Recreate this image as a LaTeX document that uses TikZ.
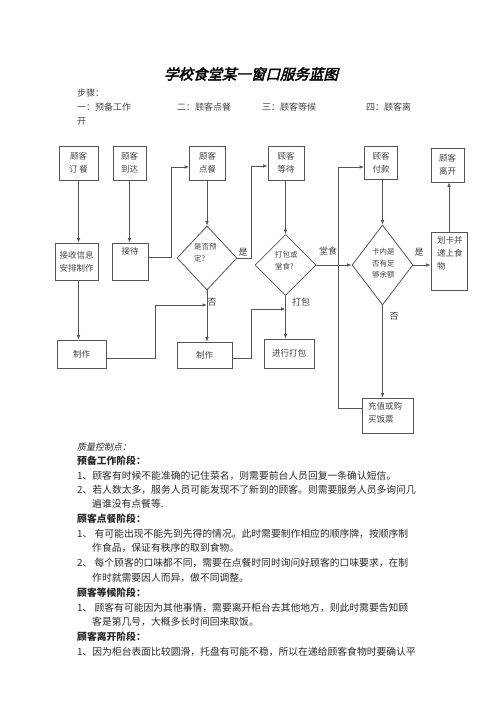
\documentclass[tikz,border=0pt]{standalone}
\usepackage{fontspec}
\setmainfont{Noto Sans CJK SC}
\newfontfamily\titlefont[FakeSlant=0.25,FakeBold=2.5]{Noto Sans CJK SC}
\newfontfamily\slantfont[FakeSlant=0.2]{Noto Sans CJK SC}
\usetikzlibrary{arrows.meta,shapes.geometric,calc}
\definecolor{linec}{HTML}{555555}
\definecolor{txtc}{HTML}{444444}
\definecolor{bodyc}{HTML}{2a2a2a}
\begin{document}
\begin{tikzpicture}[x=1pt,y=-1pt,
  box/.style={draw=linec, line width=0.8pt, rectangle, inner sep=0pt, text=txtc,
    font=\fontsize{8.5}{13}\selectfont, align=center},
  dia/.style={draw=linec, line width=0.8pt, diamond, inner sep=0pt},
  dtxt/.style={text=txtc, font=\fontsize{7.5}{12}\selectfont, align=left, inner sep=0pt, anchor=north west},
  btxt/.style={text=txtc, font=\fontsize{8.5}{13}\selectfont, align=left, inner sep=0pt, anchor=north west},
  lab/.style={text=txtc, font=\fontsize{9}{11}\selectfont, inner sep=0pt},
  conn/.style={draw=linec, line width=0.8pt},
  arr/.style={conn, -{Latex[length=4.5pt,width=3.6pt]}},
  stp/.style={text=txtc, font=\fontsize{9}{11}\selectfont, inner sep=0pt, anchor=west},
  bt/.style={text=bodyc, font=\fontsize{9.8}{12}\selectfont, inner sep=0pt, anchor=west},
  bh/.style={text=bodyc, font=\fontsize{9.8}{12}\selectfont\bfseries, inner sep=0pt, anchor=west}
]
\useasboundingbox[fill=white] (0,0) rectangle (500,708);

% title and steps
\node[text=black, font=\titlefont\fontsize{14.5}{16}\selectfont, inner sep=0pt] (title) at (251,74) {学校食堂某一窗口服务蓝图};
\node[stp] (s0) at (77,93) {步骤：};
\node[stp] (s1) at (77,107) {一：预备工作};
\node[stp] (s2) at (177,107) {二：顾客点餐};
\node[stp] (s3) at (262,107) {三：顾客等候};
\node[stp] (s4) at (366,107) {四：顾客离};
\node[stp] (s5) at (77,121) {开};

% top row
\node[box, minimum width=39, minimum height=34] (b1) at (78.5,163) {顾客\\订\ 餐};
\node[box, minimum width=33, minimum height=34] (b2) at (129.5,163) {顾客\\到达};
\node[box, minimum width=36, minimum height=34] (b3) at (207.5,163) {顾客\\点餐};
\node[box, minimum width=36, minimum height=34] (b4) at (286,163) {顾客\\等待};
\node[box, minimum width=33, minimum height=33] (b5) at (381,162.5) {顾客\\付款};
\node[box, minimum width=33, minimum height=34] (b6) at (447.5,165) {顾客\\离开};

% middle row
\node[box, minimum width=43, minimum height=37] (b7) at (76.5,261.5) {接收信息\\安排制作};
\node[box, minimum width=36, minimum height=37] (b8) at (130,261.5) {};
\node[btxt, anchor=north] (b8t) at (130,247) {接待};
\node[dia, minimum width=60, minimum height=64] (d1) at (207,258) {};
\node[dtxt] (d1t) at (194,243) {是否预\\定?};
\node[dia, minimum width=61, minimum height=61] (d2) at (285.5,265) {};
\node[dtxt] (d2t) at (275,251) {打包或\\堂食?};
\node[dia, minimum width=61, minimum height=80] (d3) at (382.5,265) {};
\node[dtxt, font=\fontsize{7.5}{11.5}\selectfont] (d3t) at (372,248) {卡内是\\否有足\\够余额};
\node[box, minimum width=36, minimum height=58] (b12) at (449,261) {};
\node[btxt] (b12t) at (437,236) {划卡并\\递上食\\物};

% bottom row
\node[box, minimum width=49, minimum height=28] (b9) at (81.5,354) {制作};
\node[box, minimum width=55, minimum height=26] (b10) at (204.5,355) {制作};
\node[box, minimum width=50, minimum height=29] (b11) at (289,353.5) {进行打包};
\node[box, minimum width=51, minimum height=35] (b13) at (387.5,415.5) {};
\node[btxt] (b13t) at (368,402) {充值或购\\买饭票};

% bend coordinates
\coordinate (k1) at (171,167);
\coordinate (k2) at (251,166);
\coordinate (k3) at (338,167);
\coordinate (k4) at (155,305);
\coordinate (k5) at (251,309);

% connectors
\draw[arr] (b1.south) -- (b1.south |- b7.north);
\draw[arr] (b2.south) -- (b2.south |- b8.north);
\draw[arr] (b8.east |- 0,257) -| (k1) -- (k1 -| b3.west);
\draw[arr] (b3.south -| d1.north) -- (d1.north);
\draw[arr] (d1.east) -| (k2) -- (k2 -| b4.west);
\draw[arr] (b4.south -| d2.north) -- (d2.north);
\draw[arr] (d2.east) -- (d2.east -| d3.west);
\draw[arr] (d3.east) -- (d3.east -| b12.west);
\draw[arr] (b12.north) -- (b12.north |- b6.south);
\draw[arr] (b5.south -| d3.north) -- (d3.north);
\draw[arr] (d3.south) -- (d3.south |- b13.north);
\draw[arr] (b13.west |- 0,408) -| (k3) -- (k3 -| b5.west);
\draw[arr] (b7.south -| b1.south) -- (b1.south |- b9.north);
\draw[arr] (b9.east |- 0,358) -| (k4) -- (k4 -| d1.south);
\draw[arr] (d1.south) -- (d1.south |- b10.north);
\draw[arr] (b10.east |- 0,358) -| (k5) -- (k5 -| d2.south);
\draw[arr] (d2.south) -- (d2.south |- b11.north);

% connector labels
\node[lab] (l1) at (243,252) {是};
\node[lab] (l2) at (328,251) {堂食};
\node[lab] (l3) at (419,252) {是};
\node[lab] (l4) at (212,302) {否};
\node[lab] (l5) at (301,302) {打包};
\node[lab] (l6) at (394,316) {否};

% body text
\node[text=bodyc, font=\slantfont\fontsize{9}{11}\selectfont, inner sep=0pt, anchor=west] (t0) at (77,447) {质量控制点：};
\node[bh] (t1) at (77,461) {预备工作阶段：};
\node[bt] (t2) at (77,476) {1、顾客有时候不能准确的记住菜名，则需要前台人员回复一条确认短信。};
\node[bt] (t3) at (77,490) {2、若人数太多，服务人员可能发现不了新到的顾客。则需要服务人员多询问几};
\node[bt] (t4) at (92,504) {遍谁没有点餐等.};
\node[bh] (t5) at (77,519) {顾客点餐阶段：};
\node[bt] (t6) at (77,534) {1、\ 有可能出现不能先到先得的情况。此时需要制作相应的顺序牌，按顺序制};
\node[bt] (t7) at (92,548) {作食品，保证有秩序的取到食物。};
\node[bt] (t8) at (77,563) {2、\ 每个顾客的口味都不同，需要在点餐时同时询问好顾客的口味要求，在制};
\node[bt] (t9) at (92,578) {作时就需要因人而异，做不同调整。};
\node[bh] (t10) at (77,593) {顾客等候阶段：};
\node[bt] (t11) at (77,608) {1、\ 顾客有可能因为其他事情，需要离开柜台去其他地方，则此时需要告知顾};
\node[bt] (t12) at (92,622) {客是第几号，大概多长时间回来取饭。};
\node[bh] (t13) at (77,637) {顾客离开阶段：};
\node[bt] (t14) at (77,652) {1、因为柜台表面比较圆滑，托盘有可能不稳，所以在递给顾客食物时要确认平};
\end{tikzpicture}
\end{document}
